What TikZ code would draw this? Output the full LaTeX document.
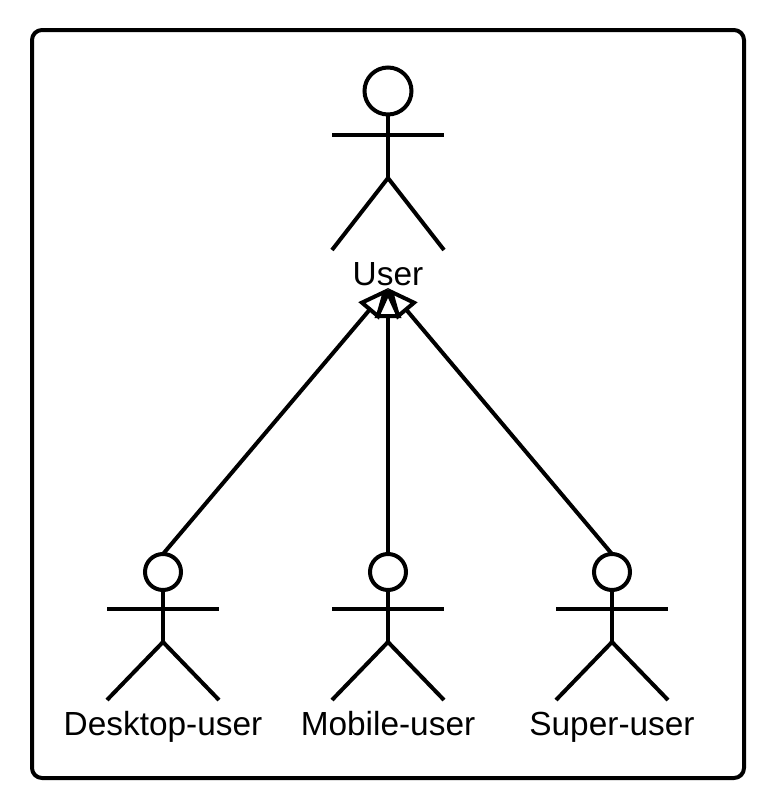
\documentclass[tikz,border=0pt]{standalone}
\usepackage{fontspec}
\setmainfont{Liberation Sans}
\usepackage{tikz}
\usetikzlibrary{arrows.meta, positioning}

\begin{document}
\begin{tikzpicture}[x=1pt, y=-1pt]
    % --- Styles ---
    \tikzstyle{stroke}=[line width=4pt, color=black, line join=round]
    \tikzstyle{head}=[draw=black, circle, fill=white, line width=4pt, inner sep=0pt, outer sep=0pt]
    \tikzstyle{name_text}=[font=\fontsize{33.4}{36}\selectfont, color=black, inner sep=0pt, anchor=base]
    \tikzstyle{inherit}=[line width=4pt, color=black, -{Triangle[open, fill=white, length=30pt, width=26pt, line width=4pt]}]

    \useasboundingbox (0, 0) rectangle (771, 803);

    % --- 1. Frame ---
    \draw[stroke, rounded corners=10pt] (32, 30) rectangle (744, 778);

    % --- 2. Parent actor ---
    \node[head, minimum size=47pt] (userhead) at (388, 91) {};
    \coordinate (userhip) at (388, 178);
    \draw[stroke] (userhead) -- (userhip);
    \draw[stroke] (332, 135) -- (444, 135);
    \draw[stroke] (332, 250) -- (userhip) -- (444, 250);
    \node[name_text] (user) at (388, 285) {User};
    \coordinate (usertip) at (388, 288);

    % --- 3. Child actors ---
    \foreach \id/\cx/\txt in {desktop/163/Desktop-user, mobile/388/Mobile-user, super/612/Super-user} {
        \node[head, minimum size=36pt] (\id head) at (\cx, 572) {};
        \coordinate (\id hip) at (\cx, 642);
        \draw[stroke] (\id head) -- (\id hip);
        \draw[stroke] (\cx-56, 609) -- (\cx+56, 609);
        \draw[stroke] (\cx-56, 700) -- (\id hip) -- (\cx+56, 700);
        \node[name_text] (\id) at (\cx, 735) {\txt};
    }

    % --- 4. Generalisations ---
    \draw[inherit] (desktophead.north) -- (usertip);
    \draw[inherit] (superhead.north) -- (usertip);
    \draw[inherit] (mobilehead.north) -- (usertip);

\end{tikzpicture}
\end{document}
